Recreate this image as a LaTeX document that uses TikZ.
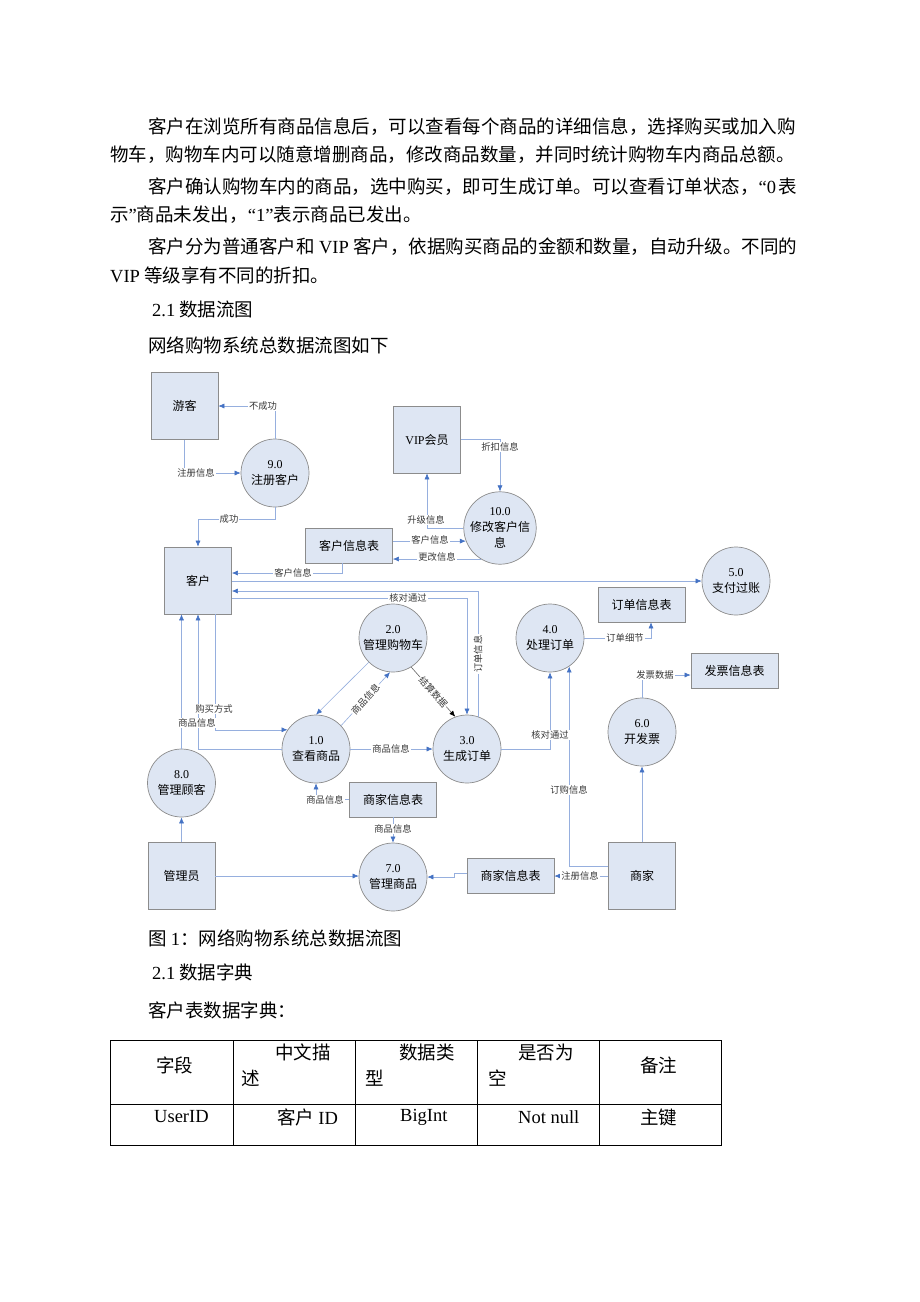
\documentclass[tikz,border=0pt]{standalone}
\usepackage{fontspec}
\setmainfont{Noto Sans CJK SC}
\newfontfamily\lt{Liberation Serif}
\usetikzlibrary{arrows.meta,calc}
\definecolor{boxfill}{RGB}{222,230,243}
\definecolor{boxline}{RGB}{140,140,140}
\definecolor{flowline}{RGB}{150,175,222}
\definecolor{arrowblue}{RGB}{68,114,196}
\definecolor{lbltext}{RGB}{55,55,55}
\XeTeXinterchartokenstate=1
\newcommand\jglue{\hskip 0pt plus 1pt\relax}
\XeTeXinterchartoks 1 1 = {\jglue}
\XeTeXinterchartoks 1 2 = {\jglue}
\XeTeXinterchartoks 1 3 = {\jglue}
\XeTeXinterchartoks 2 1 = {\jglue}
\XeTeXinterchartoks 3 1 = {\jglue}
\XeTeXinterchartoks 3 2 = {\jglue}
\tikzset{
  ent/.style={draw=boxline, fill=boxfill, line width=0.7pt, minimum width=67pt, minimum height=67pt, inner sep=1pt, font=\fontsize{12}{14}\selectfont},
  store/.style={draw=boxline, fill=boxfill, line width=0.7pt, minimum width=87pt, minimum height=35pt, inner sep=1pt, font=\fontsize{12}{14}\selectfont},
  proc/.style={circle, draw=boxline, fill=boxfill, line width=0.7pt, minimum size=68pt, inner sep=0pt, align=center, font=\fontsize{12}{16}\selectfont},
  flow/.style={draw=flowline, line width=0.6pt, -{Latex[length=6pt,width=5pt,color=arrowblue]}},
  flowk/.style={draw=black!60, line width=0.6pt, -{Latex[length=6pt,width=5pt,color=black]}},
  lbl/.style={fill=white, inner sep=1pt, text=lbltext, font=\fontsize{9.3}{10}\selectfont},
  body/.style={anchor=west, inner sep=0pt, font=\fontsize{18.5}{22}\selectfont},
}
\begin{document}
\begin{tikzpicture}[x=1pt,y=-1pt]
\fill[white] (0,0) rectangle (920,1302);
\useasboundingbox (0,0) rectangle (920,1302);

% ---------- body text ----------
\node[body] (l1) at (148,127) {\makebox[649pt][s]{客户在浏览所有商品信息后，可以查看每个商品的详细信息，选择购买或加入购}};
\node[body] (l2) at (110,155) {\makebox[686pt][s]{物车，购物车内可以随意增删商品，修改商品数量，并同时统计购物车内商品总额。}};
\node[body] (l3) at (148,187) {\makebox[649pt][s]{客户确认购物车内的商品，选中购买，即可生成订单。可以查看订单状态，{\lt “0} 表}};
\node[body] (l4) at (110,215) {示{\lt ”}商品未发出，{\lt “1”}表示商品已发出。};
\node[body] (l5) at (148,247) {\makebox[649pt][s]{客户分为普通客户和 {\lt VIP} 客户，依据购买商品的金额和数量，自动升级。不同的}};
\node[body] (l6) at (110,275) {{\lt VIP} 等级享有不同的折扣。};
\node[body] (h1) at (152,309) {{\lt 2.1} 数据流图};
\node[body] (h2) at (148,345) {网络购物系统总数据流图如下};

% ---------- entities ----------
\node[ent] (youke) at (184.5,406) {游客};
\node[ent] (vip) at (427,439.5) {{\lt VIP}会员};
\node[ent] (kehu) at (198,580.5) {客户};
\node[ent] (admin) at (181.5,876) {管理员};
\node[ent] (shangjia) at (642,876) {商家};

% ---------- stores ----------
\node[store] (kht) at (349,545.5) {客户信息表};
\node[store] (ddt) at (641.5,604.5) {订单信息表};
\node[store] (fpt) at (734.5,671) {发票信息表};
\node[store] (sjt1) at (393,799.5) {商家信息表};
\node[store] (sjt2) at (510.5,876) {商家信息表};

% ---------- processes ----------
\node[proc] (p9) at (275,473) {{\lt 9.0}\\注册客户};
\node[proc] (p10) at (500,528) {{\lt 10.0}\\修改客户信\\息};
\node[proc] (p5) at (736,581) {{\lt 5.0}\\支付过账};
\node[proc] (p2) at (393,638) {{\lt 2.0}\\管理购物车};
\node[proc] (p4) at (550,638) {{\lt 4.0}\\处理订单};
\node[proc] (p1) at (316,749) {{\lt 1.0}\\查看商品};
\node[proc] (p3) at (467,749) {{\lt 3.0}\\生成订单};
\node[proc] (p6) at (642,732) {{\lt 6.0}\\开发票};
\node[proc] (p8) at (181.5,783) {{\lt 8.0}\\管理顾客};
\node[proc] (p7) at (393,877) {{\lt 7.0}\\管理商品};

% ---------- flows ----------
\draw[flow] (p9.north) |- (youke.east);
\draw[flow] (youke.south) |- (p9.west);
\draw[flow] (p9.south) -- ++(0,12) -| (kehu.north);
\draw[flow] (p10.west) -| (vip.south);
\draw[flow] (vip.east) -| (p10.north);
\draw[flow] (kht.east |- p10.201) -- (p10.201);
\draw[flow] (p10.238) -- (kht.east |- p10.238);
\draw[flow] ($(kht.south)+(-7,0)$) |- ($(kehu.east)+(0,-7.5)$);
\draw[flow] (kehu.east |- p5.west) -- (p5.west);
\draw[flow] (p3.71) |- ($(kehu.east)+(0,10.5)$);
\draw[flow] ($(kehu.east)+(0,17.5)$) -| (p3.north);
\draw[flow] (p2.225) -- (p1.north);
\draw[flow] (p1.43) -- node[lbl,sloped]{商品信息} (p2.265);
\draw[flowk] (p2.302) -- node[lbl,sloped]{结算数据} (p3.110);
\draw[flow] (p1.east) -- (p3.west);
\draw[flow] (p3.east) -| (p4.south);
\draw[flow] ($(shangjia.west)+(0,-10)$) -| (p4.304);
\draw[flow] (p4.east) -| ($(ddt.south)+(9.5,0)$);
\draw[flow] (p6.north) |- ($(fpt.west)+(0,4)$);
\draw[flow] (shangjia.north) -- (p6.south);
\draw[flow] (shangjia.west) -- (sjt2.east);
\draw[flow] ($(sjt2.west)+(0,-3)$) -- ++(-12,0) -- ++(0,4) -- (p7.east);
\draw[flow] (admin.east) -- (admin.east -| p7.west);
\draw[flow] (admin.north) -- (p8.south);
\draw[flow] (p8.north) -- (kehu.south -| p8.north);
\draw[flow] (p1.west) -| (kehu.south);
\draw[flow] ($(kehu.south)+(17,0)$) |- (p1.146);
\draw[flow] (sjt1.west) -| (p1.south);
\draw[flow] (sjt1.south) -- (p7.north);

% ---------- flow labels ----------
\node[lbl] (f1) at (263,406) {不成功};
\node[lbl] (f2) at (196,473) {注册信息};
\node[lbl] (f3) at (229,519) {成功};
\node[lbl] (f4) at (426,520) {升级信息};
\node[lbl] (f5) at (500,447) {折扣信息};
\node[lbl] (f6) at (430,540) {客户信息};
\node[lbl] (f7) at (437,557) {更改信息};
\node[lbl] (f8) at (293,573) {客户信息};
\node[lbl] (f9) at (408,598) {核对通过};
\node[lbl,rotate=90] (f10) at (478,654) {订单信息};
\node[lbl] (f11) at (214,709) {购买方式};
\node[lbl] (f12) at (197,723) {商品信息};
\node[lbl] (f13) at (391,749) {商品信息};
\node[lbl] (f14) at (550,735) {核对通过};
\node[lbl] (f15) at (569,790) {订购信息};
\node[lbl] (f16) at (625,638) {订单细节};
\node[lbl] (f17) at (655,675) {发票数据};
\node[lbl] (f18) at (580,876) {注册信息};
\node[lbl] (f19) at (325,800) {商品信息};
\node[lbl] (f20) at (393,829) {商品信息};

% ---------- caption and table ----------
\node[body] (cap) at (148,938) {图 {\lt 1}：网络购物系统总数据流图};
\node[body] (h3) at (152,972) {{\lt 2.1} 数据字典};
\node[body] (h4) at (148,1010) {客户表数据字典：};

\draw[line width=0.8pt] (110,1040) rectangle (721,1145);
\draw[line width=0.8pt] (110,1104) -- (721,1104);
\foreach \cx in {233,355,477,599} \draw[line width=0.8pt] (\cx,1040) -- (\cx,1145);

\node[body] (t11) at (156,1065) {字段};
\node[body] (t12a) at (275,1052) {中文描};
\node[body] (t12b) at (241.5,1078) {述};
\node[body] (t13a) at (399,1052) {数据类};
\node[body] (t13b) at (365,1078) {型};
\node[body] (t14a) at (518,1052) {是否为};
\node[body] (t14b) at (488.6,1078) {空};
\node[body] (t15) at (640,1065) {备注};
\node[body] (t21) at (154,1117) {\lt UserID};
\node[body] (t22) at (277,1117) {客户 {\lt ID}};
\node[body] (t23) at (400,1117) {\lt BigInt};
\node[body] (t24) at (518,1117) {\lt Not null};
\node[body] (t25) at (640,1117) {主键};
\end{tikzpicture}
\end{document}
